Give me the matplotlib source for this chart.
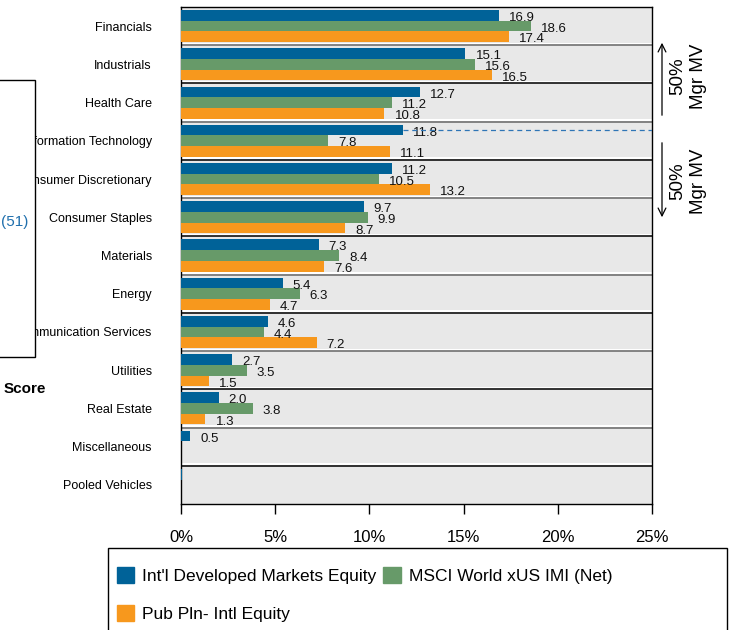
import numpy as np
import matplotlib
matplotlib.use("Agg")
import matplotlib.pyplot as plt
from matplotlib.patches import Rectangle, Patch, FancyArrowPatch

plt.rcParams["font.family"] = ["Liberation Sans", "DejaVu Sans"]

categories = ["Financials", "Industrials", "Health Care", "Information Technology",
              "Consumer Discretionary", "Consumer Staples", "Materials", "Energy",
              "Communication Services", "Utilities", "Real Estate", "Miscellaneous",
              "Pooled Vehicles"]
intl_dev = [16.9, 15.1, 12.7, 11.8, 11.2, 9.7, 7.3, 5.4, 4.6, 2.7, 2.0, 0.5, 0.05]
msci_world = [18.6, 15.6, 11.2, 7.8, 10.5, 9.9, 8.4, 6.3, 4.4, 3.5, 3.8, 0.0, 0.0]
pub_pln = [17.4, 16.5, 10.8, 11.1, 13.2, 8.7, 7.6, 4.7, 7.2, 1.5, 1.3, 0.0, 0.0]
series_names = ["Int'l Developed Markets Equity", "MSCI World xUS IMI (Net)",
                "Pub Pln- Intl Equity"]
colors = ["#006298", "#679A69", "#F7981D"]
xticks = [0, 5, 10, 15, 20, 25]

W, H = 730, 630
fig = plt.figure(figsize=(W / 100, H / 100), dpi=100)
ax = fig.add_axes([181 / W, 1 - 504 / H, (652 - 181) / W, (504 - 7) / H])
ax.set_facecolor("#E8E8E8")

y = np.arange(len(categories))
bh = 0.28
for k, (vals, c) in enumerate(zip([intl_dev, msci_world, pub_pln], colors)):
    off = (k - 1) * bh
    ax.barh(y + off, vals, bh, color=c, zorder=3)
    for yi, v in zip(y, vals):
        if v >= 0.1:
            ax.text(v + 0.53, yi + off + 0.07, "%.1f" % v, va="center", ha="left",
                    fontsize=9.5, color="#111111", zorder=4)

# category separators (white highlight + dark rule)
for i in range(len(categories) - 1):
    yy = i + 0.5
    ax.axhline(yy - 0.04, color="white", lw=1.5, zorder=2)
    ax.axhline(yy, color="#707070" if i % 2 == 0 else "#111111", lw=1.2, zorder=2)

# dashed marker at IT blue bar
it = categories.index("Information Technology")
ax.plot([intl_dev[it], 25], [it - bh, it - bh], ls=(0, (4, 3)), color="#2E75B6",
        lw=0.9, zorder=4)

ax.set_xlim(0, 25)
ax.set_ylim(len(categories) - 0.5, -0.5)
ax.set_xticks(xticks)
ax.set_xticklabels(["%d%%" % t for t in xticks], fontsize=12)
ax.tick_params(axis="x", direction="out", length=7, width=1, pad=12)
ax.set_yticks(y)
ax.set_yticklabels(categories, fontsize=9)
ax.tick_params(axis="y", length=0, pad=21)
for s in ax.spines.values():
    s.set_color("black")
    s.set_linewidth(1)


def fx(px):
    return px / W


def fy(py):
    return 1 - py / H


# right-hand annotations
fig.add_artist(FancyArrowPatch((fx(662), fy(118)), (fx(662), fy(40)),
               transform=fig.transFigure, arrowstyle="->", mutation_scale=14, lw=0.9,
               color="black"))
fig.add_artist(FancyArrowPatch((fx(662), fy(140)), (fx(662), fy(220)),
               transform=fig.transFigure, arrowstyle="->", mutation_scale=14, lw=0.9,
               color="black"))
fig.text(fx(688), fy(76), "50%\nMgr MV", rotation=90, ha="center", va="center",
         fontsize=13.5, linespacing=1.35)
fig.text(fx(688), fy(181), "50%\nMgr MV", rotation=90, ha="center", va="center",
         fontsize=13.5, linespacing=1.35)

# overlapping panel on the left
fig.add_artist(Rectangle((fx(-2), fy(357)), 37 / W, 277 / H, transform=fig.transFigure,
                         facecolor="white", edgecolor="black", lw=1, zorder=5))
fig.text(fx(28), fy(222), "(51)", ha="right", va="center", fontsize=11,
         color="#1F6FAD", zorder=6)
fig.text(fx(46), fy(389), "Score", ha="right", va="center", fontsize=11,
         fontweight="bold", zorder=6)

# legend: frame drawn by hand, running off the bottom edge
fig.add_artist(Rectangle((fx(108), fy(645)), 619 / W, 97 / H, transform=fig.transFigure,
                         facecolor="white", edgecolor="black", lw=1, zorder=1))
order = [0, 2, 1]
handles = [Patch(facecolor=colors[i], edgecolor=colors[i]) for i in order]
leg = fig.legend(handles, [series_names[i] for i in order], ncol=2, loc="upper left",
                 bbox_to_anchor=(fx(117), fy(567)), fontsize=12.5, frameon=False,
                 borderpad=0, handlelength=1.0, handleheight=1.0, handletextpad=0.45,
                 columnspacing=0.4, labelspacing=1.25, borderaxespad=0)
leg.set_zorder(2)

fig.savefig("out.png", dpi=100)
